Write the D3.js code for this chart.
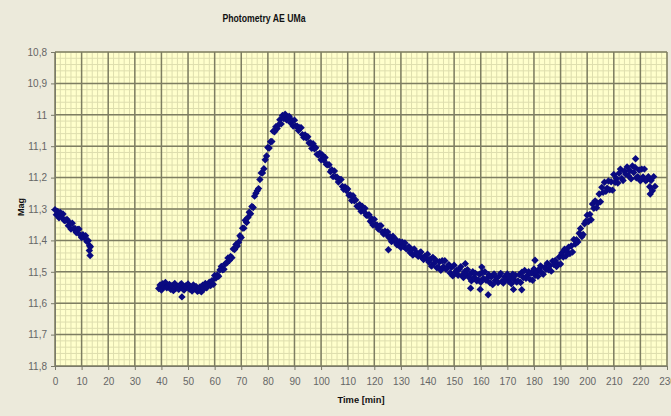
<!DOCTYPE html>
<html>
<head>
<meta charset="utf-8">
<script src="https://cdn.jsdelivr.net/npm/d3@7/dist/d3.min.js"></script>
<style>
body{margin:0;background:#ECEADB}
svg{display:block;font-family:"Liberation Sans",Arial,sans-serif}
</style>
</head>
<body>
<div id="chart"></div>
<script>
const titleText = "Photometry AE UMa"
const xLabel = "Time [min]"
const yLabel = "Mag"
const xTicks = [0,10,20,30,40,50,60,70,80,90,100,110,120,130,140,150,160,170,180,190,200,210,220,230]
const yTicks = [10.8,10.9,11.0,11.1,11.2,11.3,11.4,11.5,11.6,11.7,11.8]

// first run of the night: time [min], magnitude
const firstRun = [
 [0.0,11.302],[0.5,11.318],[1.0,11.308],[1.5,11.328],[2.0,11.311],[2.5,11.326],[3.0,11.316],[3.5,11.337],
 [4.0,11.336],[4.5,11.333],[5.0,11.353],[5.5,11.344],[6.0,11.364],[6.5,11.345],[7.0,11.363],[7.5,11.362],
 [8.0,11.375],[8.5,11.365],[9.0,11.364],[9.5,11.383],[10.0,11.391],[10.5,11.382],[11.0,11.391],[11.5,11.385],
 [12.0,11.404],[12.5,11.401],[12.9,11.432],[13.0,11.417],[13.2,11.448],[13.3,11.420]
]

// second run: time [min], magnitude
const secondRun = [
 [39.0,11.553],[39.5,11.542],[40.0,11.558],[40.5,11.538],[41.0,11.548],[41.5,11.534],[42.0,11.551],[42.5,11.546],
 [43.0,11.540],[43.5,11.556],[44.0,11.544],[44.5,11.560],[45.0,11.537],[45.5,11.552],[46.0,11.547],[46.5,11.556],
 [47.0,11.542],[47.5,11.538],[47.7,11.580],[48.0,11.554],[48.5,11.558],[49.0,11.545],[49.5,11.549],[50.0,11.539],
 [50.5,11.555],[51.0,11.548],[51.5,11.561],[52.0,11.542],[52.5,11.554],[53.0,11.547],[53.5,11.562],[54.0,11.560],
 [54.5,11.548],[55.0,11.564],[55.5,11.543],[56.0,11.554],[56.5,11.537],[57.0,11.551],[57.5,11.543],[58.0,11.533],
 [58.5,11.544],[59.0,11.528],[59.5,11.540],[60.0,11.512],[60.5,11.520],[61.0,11.510],[61.5,11.514],[62.0,11.494],
 [62.5,11.483],[63.0,11.494],[63.5,11.492],[64.0,11.474],[64.5,11.472],[65.0,11.456],[65.5,11.464],[66.0,11.451],
 [66.5,11.455],[67.0,11.427],[67.5,11.429],[68.0,11.413],[68.5,11.418],[69.0,11.406],[69.5,11.385],[70.0,11.391],
 [70.5,11.361],[71.0,11.361],[71.5,11.336],[72.0,11.343],[72.5,11.327],[73.0,11.310],[73.5,11.315],[74.0,11.292],
 [74.5,11.295],[75.0,11.259],[75.5,11.250],[76.0,11.242],[76.5,11.235],[77.0,11.206],[77.5,11.185],[78.0,11.185],
 [78.5,11.172],[79.0,11.143],[79.5,11.131],[80.0,11.104],[80.5,11.106],[81.0,11.086],[81.5,11.085],[82.0,11.052],
 [82.5,11.054],[83.0,11.038],[83.5,11.044],[84.0,11.032],[84.5,11.016],[85.0,11.029],[85.5,11.002],[86.0,11.012],
 [86.5,10.998],[87.0,11.016],[87.5,11.012],[88.0,11.005],[88.5,11.025],[89.0,11.017],[89.5,11.036],[90.0,11.017],
 [90.5,11.036],[91.0,11.036],[91.5,11.050],[92.0,11.041],[92.5,11.041],[93.0,11.063],[93.5,11.072],[94.0,11.064],
 [94.5,11.074],[95.0,11.070],[95.5,11.090],[96.0,11.089],[96.5,11.107],[97.0,11.092],[97.5,11.108],[98.0,11.105],
 [98.5,11.126],[99.0,11.128],[99.5,11.122],[100.0,11.143],[100.5,11.128],[101.0,11.145],[101.5,11.136],[102.0,11.158],
 [102.5,11.159],[103.0,11.159],[103.5,11.181],[104.0,11.175],[104.5,11.197],[105.0,11.179],[105.5,11.198],[106.0,11.199],
 [106.5,11.214],[107.0,11.206],[107.5,11.206],[108.0,11.228],[108.5,11.237],[109.0,11.230],[109.5,11.241],[110.0,11.236],
 [110.5,11.256],[111.0,11.255],[111.5,11.273],[112.0,11.258],[112.5,11.274],[113.0,11.271],[113.5,11.291],[114.0,11.293],
 [114.5,11.286],[115.0,11.307],[115.5,11.292],[116.0,11.307],[116.5,11.298],[117.0,11.320],[117.5,11.320],[118.0,11.318],
 [118.5,11.339],[119.0,11.331],[119.5,11.351],[120.0,11.333],[120.5,11.351],[121.0,11.351],[121.5,11.364],[122.0,11.354],
 [122.5,11.353],[123.0,11.373],[123.5,11.380],[124.0,11.371],[124.5,11.380],[125.0,11.373],[125.3,11.430],[125.5,11.391],
 [126.0,11.388],[126.5,11.404],[127.0,11.387],[127.5,11.401],[128.0,11.396],[128.5,11.414],[129.0,11.414],[129.5,11.404],
 [130.0,11.423],[130.5,11.406],[131.0,11.419],[131.5,11.408],[132.0,11.427],[132.5,11.425],[133.0,11.420],[133.5,11.439],
 [134.0,11.429],[134.5,11.447],[135.0,11.427],[135.5,11.443],[136.0,11.440],[136.5,11.451],[137.0,11.440],[137.5,11.437],
 [138.0,11.455],[138.5,11.461],[139.0,11.450],[139.5,11.457],[140.0,11.444],[140.5,11.469],[141.0,11.460],[141.5,11.482],
 [142.0,11.454],[142.5,11.473],[143.0,11.462],[143.5,11.487],[144.0,11.485],[144.5,11.468],[145.0,11.495],[145.5,11.465],
 [146.0,11.484],[146.5,11.465],[147.0,11.492],[147.5,11.486],[148.0,11.477],[148.5,11.504],[149.0,11.486],[149.5,11.513],
 [150.0,11.479],[150.5,11.501],[151.0,11.495],[151.5,11.511],[152.0,11.491],[152.5,11.484],[153.0,11.511],[153.5,11.518],
 [154.0,11.499],[154.2,11.474],[154.5,11.508],[155.0,11.493],[155.5,11.517],[156.0,11.507],[156.2,11.552],[156.5,11.529],
 [157.0,11.500],[157.5,11.517],[158.0,11.505],[158.5,11.529],[159.0,11.526],[159.5,11.508],[159.8,11.556],[160.0,11.533],
 [160.4,11.485],[160.5,11.503],[161.0,11.521],[161.5,11.500],[162.0,11.527],[162.5,11.520],[162.8,11.573],[163.0,11.509],
 [163.5,11.535],[164.0,11.516],[164.5,11.541],[165.0,11.507],[165.5,11.528],[166.0,11.520],[166.5,11.534],[167.0,11.513],
 [167.5,11.505],[168.0,11.530],[168.5,11.536],[169.0,11.516],[169.5,11.524],[170.0,11.507],[170.5,11.530],[171.0,11.519],
 [171.5,11.538],[172.0,11.508],[172.3,11.556],[172.5,11.525],[173.0,11.511],[173.5,11.533],[174.0,11.529],[174.5,11.509],
 [175.0,11.534],[175.4,11.557],[175.5,11.501],[176.0,11.518],[176.5,11.496],[177.0,11.521],[177.5,11.512],[178.0,11.500],
 [178.5,11.524],[179.0,11.504],[179.5,11.527],[180.0,11.491],[180.4,11.463],[180.5,11.511],[181.0,11.501],[181.5,11.514],
 [182.0,11.491],[182.5,11.481],[183.0,11.504],[183.5,11.508],[184.0,11.486],[184.5,11.492],[185.0,11.473],[185.5,11.494],
 [186.0,11.481],[186.5,11.498],[187.0,11.466],[187.5,11.477],[188.0,11.464],[188.5,11.483],[189.0,11.476],[189.5,11.453],
 [190.0,11.475],[190.5,11.440],[191.0,11.453],[191.5,11.428],[192.0,11.450],[192.5,11.437],[193.0,11.422],[193.5,11.442],
 [194.0,11.418],[194.5,11.437],[195.0,11.397],[195.5,11.412],[196.0,11.398],[196.5,11.405],[197.0,11.377],[197.5,11.362],
 [198.0,11.388],[198.5,11.381],[199.0,11.347],[199.5,11.339],[200.0,11.320],[200.5,11.340],[201.0,11.317],[201.5,11.334],
 [202.0,11.284],[202.5,11.298],[203.0,11.274],[203.5,11.296],[204.0,11.282],[204.5,11.252],[205.0,11.277],[205.5,11.231],
 [206.0,11.247],[206.5,11.215],[207.0,11.244],[207.5,11.234],[208.0,11.211],[208.5,11.239],[209.0,11.213],[209.5,11.240],
 [210.0,11.190],[210.5,11.215],[211.0,11.203],[211.5,11.217],[212.0,11.186],[212.5,11.173],[213.0,11.203],[213.5,11.209],
 [214.0,11.180],[214.5,11.189],[215.0,11.166],[215.5,11.194],[216.0,11.178],[216.5,11.204],[217.0,11.163],[217.5,11.184],
 [218.0,11.168],[218.2,11.140],[218.5,11.201],[219.0,11.197],[219.5,11.176],[220.0,11.210],[220.5,11.173],[221.0,11.198],
 [221.5,11.173],[222.0,11.210],[222.5,11.206],[223.0,11.197],[223.5,11.229],[223.7,11.252],[224.0,11.209],[224.5,11.242],
 [225.0,11.197],[225.5,11.228]
]

drawChart("#chart")

function drawChart(id){
    const canvas = createCanvas()
    const svg = addSvg(id,canvas)
    const sc = addScales(canvas)

    addPlotArea(svg,sc,canvas)
    addAxes(svg,sc,canvas)
    addPoints(svg,sc,firstRun.concat(secondRun))
    addLabels(svg,canvas)
}

function createCanvas(){
    return{
        width: 671, height: 416, margin:{top: 52, bottom: 50, right: 4, left: 55}
    }
}

function addSvg(id,canvas){
    const svg = d3.select(id).append("svg").attr("width",canvas.width).attr("height",canvas.height)
    svg.append("rect").attr("width",canvas.width).attr("height",canvas.height).attr("fill","#ECEADB")
    return svg
}

function addScales(canvas){
    const xScale = d3.scaleLinear().domain([0,230])
      .range([canvas.margin.left,canvas.width - canvas.margin.right])
    const yScale = d3.scaleLinear().domain([10.8,11.8])
      .range([canvas.margin.top,canvas.height - canvas.margin.bottom])
    return {xScale,yScale}
}

function addPlotArea(svg,sc,canvas){
    const [x0,x1] = sc.xScale.range()
    const [y0,y1] = sc.yScale.range()
    svg.append("rect").attr("x",x0).attr("y",y0).attr("width",x1-x0).attr("height",y1-y0).attr("fill","#FFFFCC")

    // minor grid: 2 min and 0.02 mag
    svg.append("g").selectAll("line").data(d3.range(0,231,2)).join("line")
      .attr("x1",d => sc.xScale(d)).attr("x2",d => sc.xScale(d)).attr("y1",y0).attr("y2",y1)
      .attr("stroke","#DEDEAE").attr("stroke-width",1)
    svg.append("g").selectAll("line").data(d3.range(0,51)).join("line")
      .attr("x1",x0).attr("x2",x1).attr("y1",d => sc.yScale(10.8 + d*0.02)).attr("y2",d => sc.yScale(10.8 + d*0.02))
      .attr("stroke","#DEDEAE").attr("stroke-width",1)

    // major grid
    svg.append("g").selectAll("line").data(xTicks).join("line")
      .attr("x1",d => sc.xScale(d)).attr("x2",d => sc.xScale(d)).attr("y1",y0).attr("y2",y1)
      .attr("stroke","#7E7E62").attr("stroke-width",1.5)
    svg.append("g").selectAll("line").data(yTicks).join("line")
      .attr("x1",x0).attr("x2",x1).attr("y1",d => sc.yScale(d)).attr("y2",d => sc.yScale(d))
      .attr("stroke","#7E7E62").attr("stroke-width",1.5)
}

function addAxes(svg,sc,canvas){
    const fmt = d => String(+d.toFixed(1)).replace(".",",")

    const gx = svg.append("g").attr("transform",`translate(0,${canvas.height - canvas.margin.bottom})`)
      .call(d3.axisBottom(sc.xScale).tickValues(xTicks).tickSize(4).tickPadding(8))
    const gy = svg.append("g").attr("transform",`translate(${canvas.margin.left},0)`)
      .call(d3.axisLeft(sc.yScale).tickValues(yTicks).tickFormat(fmt).tickSize(4).tickPadding(4))

    for (const g of [gx,gy]){
        g.select(".domain").attr("stroke","#7A7A6A")
        g.selectAll(".tick line").attr("stroke","#7A7A6A")
        g.selectAll("text").attr("fill","#666").attr("font-size",10).attr("font-family","Liberation Sans, Arial, sans-serif")
    }
}

function addPoints(svg,sc,data){
    svg.append("g").selectAll("path").data(data).join("path")
      .attr("transform",d => `translate(${sc.xScale(d[0])},${sc.yScale(d[1])})`)
      .attr("d","M0,-3.7L3.7,0L0,3.7L-3.7,0Z")
      .attr("fill","#0A0A80")
}

function addLabels(svg,canvas){
    svg.append("text").attr("x",264).attr("y",22).attr("text-anchor","middle")
      .attr("font-size",10).attr("font-weight","bold").attr("fill","#111")
      .attr("textLength",83).attr("lengthAdjust","spacingAndGlyphs").text(titleText)
    svg.append("text").attr("x",361).attr("y",403).attr("text-anchor","middle")
      .attr("font-size",9).attr("font-weight","bold").attr("fill","#111")
      .attr("textLength",47).attr("lengthAdjust","spacingAndGlyphs").text(xLabel)
    svg.append("text").attr("transform","translate(24,207) rotate(-90)").attr("text-anchor","middle")
      .attr("font-size",9).attr("font-weight","bold").attr("fill","#111").text(yLabel)
}
</script>
</body>
</html>
